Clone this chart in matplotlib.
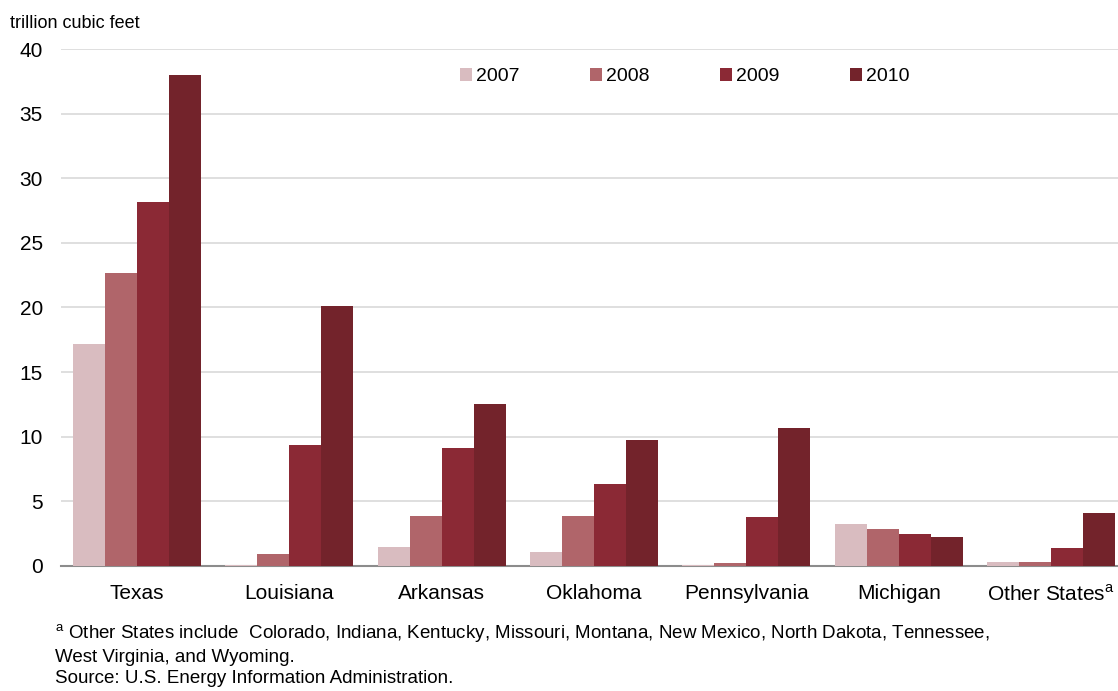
import matplotlib
matplotlib.use("Agg")
import matplotlib.pyplot as plt
import numpy as np

plt.rcParams['font.family'] = ['Liberation Sans', 'DejaVu Sans']

states = ["Texas", "Louisiana", "Arkansas", "Oklahoma", "Pennsylvania",
          "Michigan", "Other States$^\\mathregular{a}$"]
years = ["2007", "2008", "2009", "2010"]
v2007 = [17.2, 0.1, 1.5, 1.1, 0.1, 3.25, 0.3]
v2008 = [22.7, 0.9, 3.9, 3.9, 0.2, 2.85, 0.3]
v2009 = [28.2, 9.35, 9.1, 6.35, 3.8, 2.5, 1.4]
v2010 = [38.0, 20.1, 12.5, 9.75, 10.7, 2.25, 4.1]
colors = ["#d9bcc0", "#b0656a", "#8b2935", "#73232b"]

fig = plt.figure(figsize=(11.18, 6.91), dpi=100)
ax = fig.add_axes([0.0544, 0.181, 0.954, 0.748])

x = np.arange(len(states))
w = 0.21
for i, (vals, yr) in enumerate(zip([v2007, v2008, v2009, v2010], years)):
    ax.bar(x + (i - 1.5) * w, vals, w, color=colors[i], label=yr, zorder=3)

ax.set_xlim(-0.5, 6.5)
ax.set_ylim(0, 40)
ax.set_yticks(range(0, 41, 5))
ax.set_xticks(x)
ax.set_xticklabels(states, fontsize=15)
ax.tick_params(axis='y', labelsize=15, length=0, pad=13)
ax.tick_params(axis='x', length=0, pad=13)
ax.grid(axis='y', color='#d9d9d9', linewidth=1.2, zorder=0)
for s in ['top', 'right', 'left']:
    ax.spines[s].set_visible(False)
ax.spines['bottom'].set_color('#8c8c8c')
ax.spines['bottom'].set_linewidth(1.5)

ax.legend(loc='upper center', bbox_to_anchor=(0.585, 0.998), ncol=4, frameon=False,
          fontsize=14, handlelength=0.65, handleheight=0.65, handletextpad=0.2,
          columnspacing=3.6)

fig.text(0.009, 0.978, "trillion cubic feet", fontsize=13, va='top', ha='left')

foot = ("$^\\mathregular{a}$ Other States include  Colorado, Indiana, Kentucky, Missouri, "
        "Montana, New Mexico, North Dakota, Tennessee,\n"
        "West Virginia, and Wyoming.\n"
        "Source: U.S. Energy Information Administration.")
fig.text(0.049, 0.099, foot, fontsize=13.5, va='top', ha='left', linespacing=1.3)

fig.savefig("out.png", dpi=100)
